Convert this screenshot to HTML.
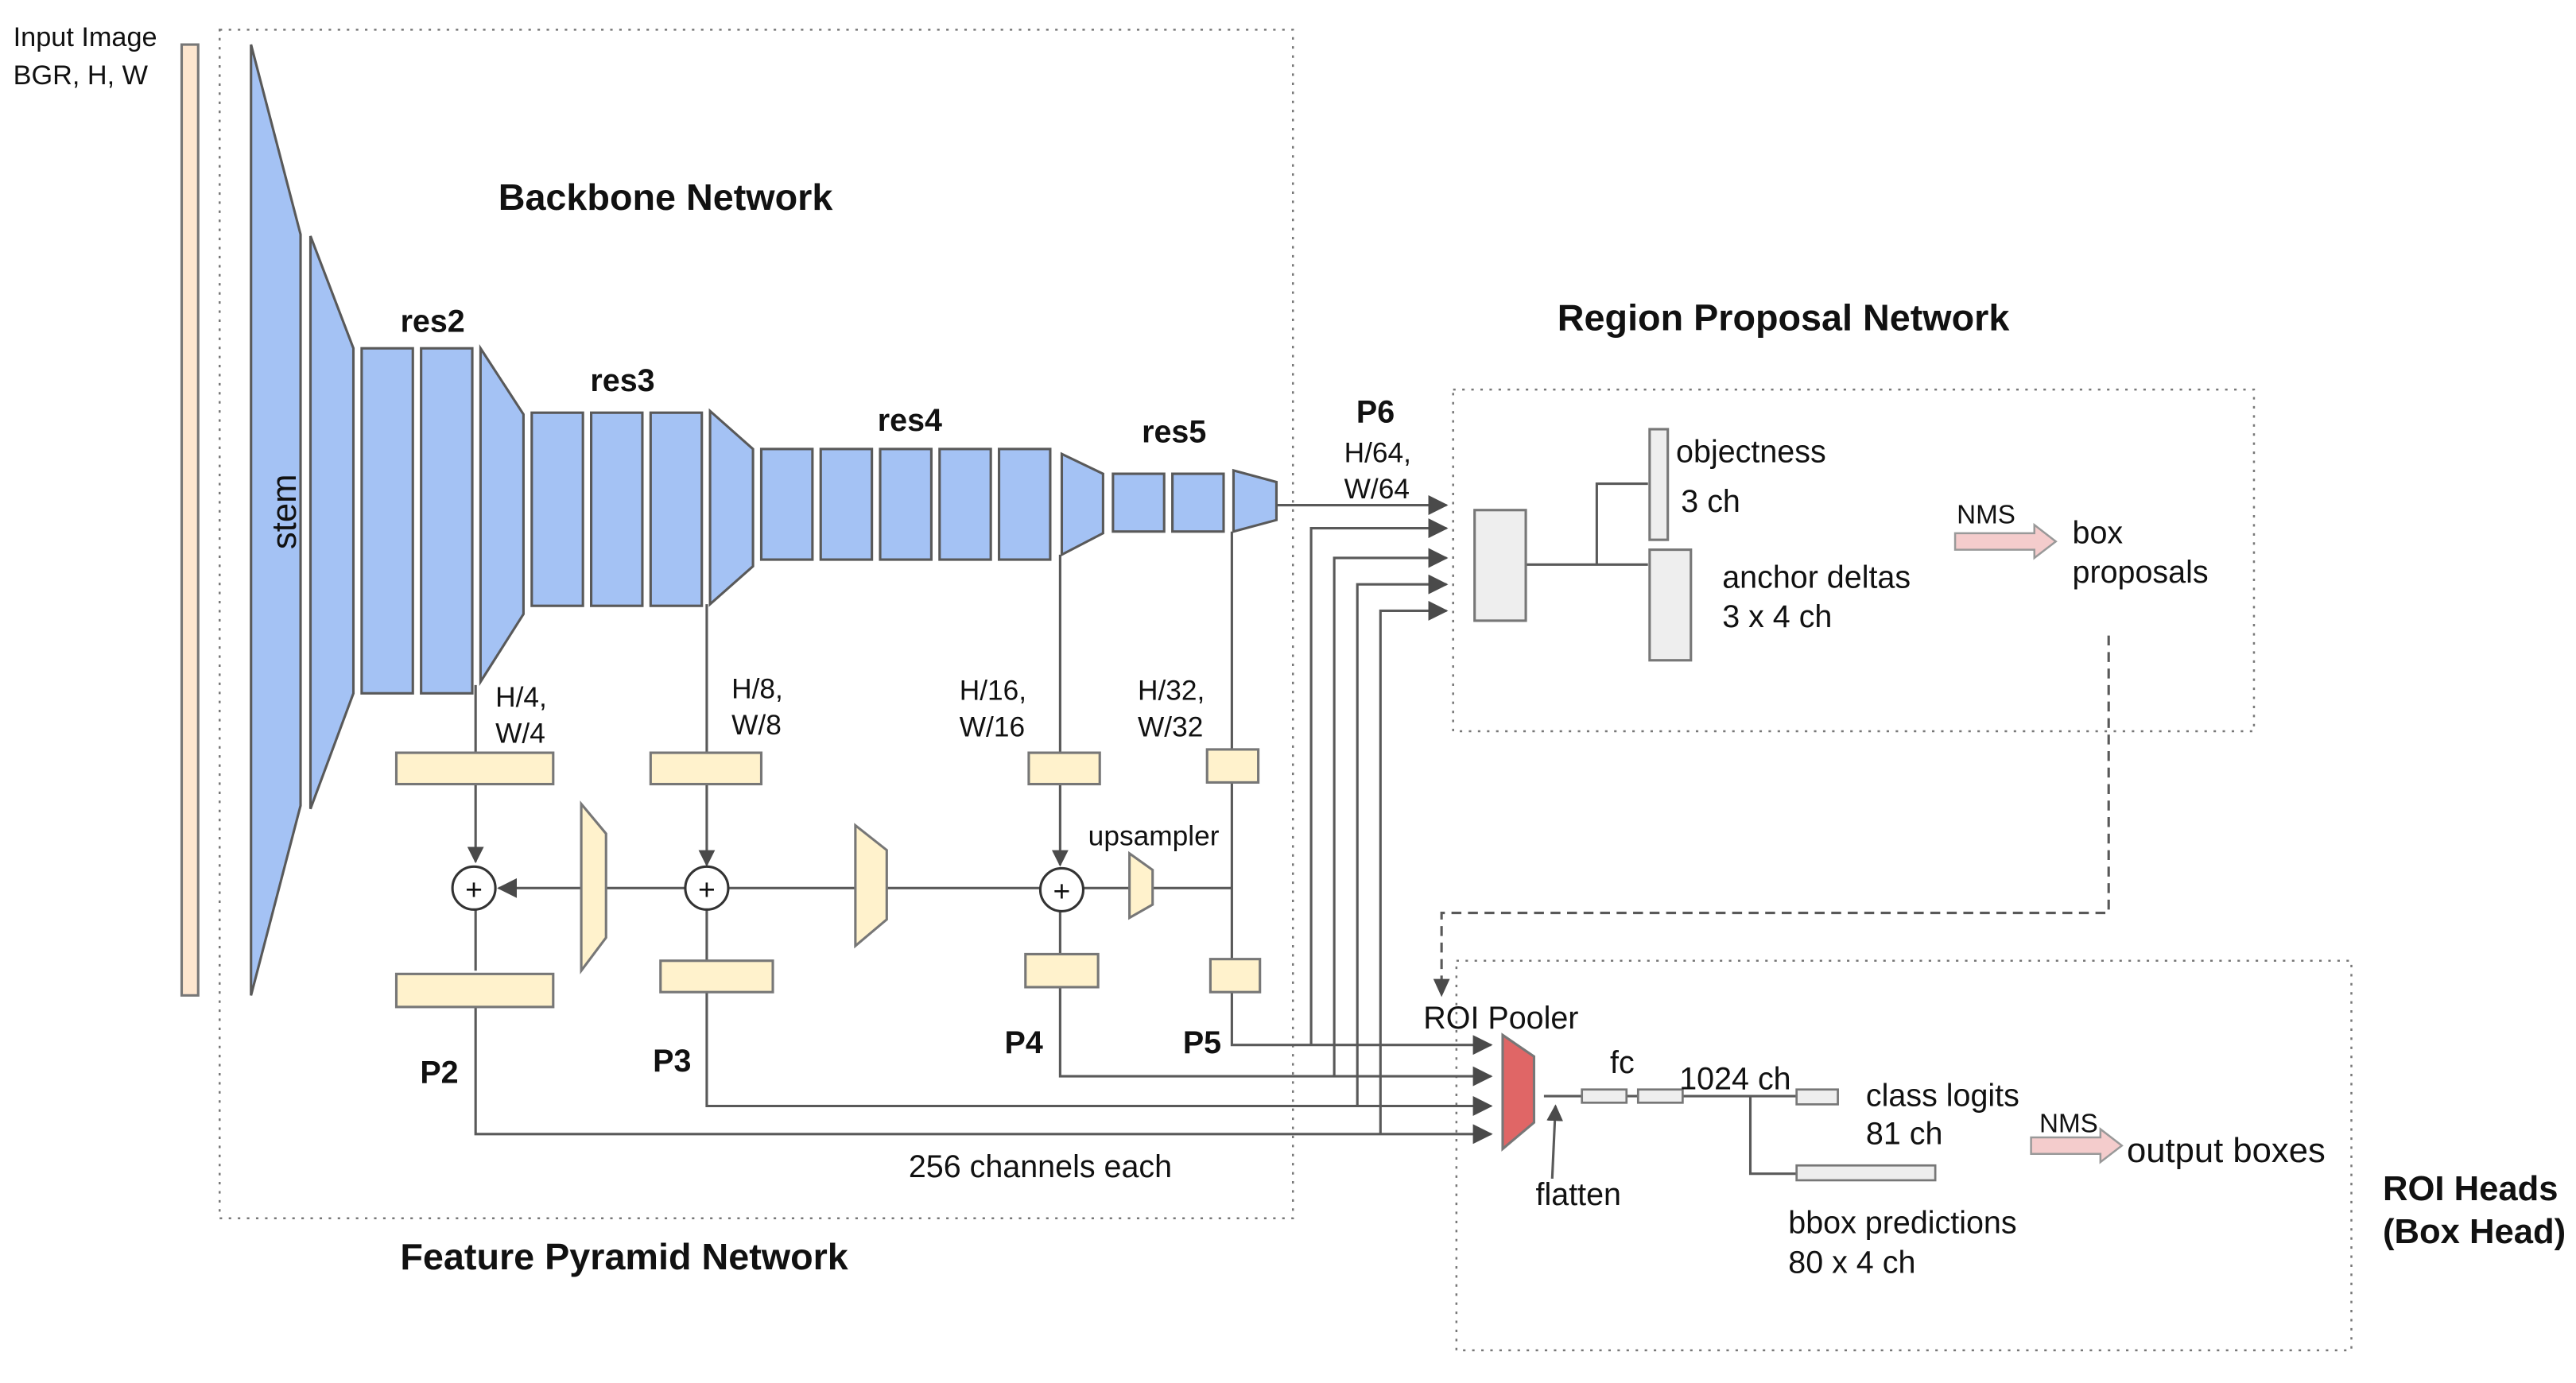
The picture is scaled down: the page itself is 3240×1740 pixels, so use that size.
<!DOCTYPE html>
<html><head><meta charset="utf-8"><style>
html,body{margin:0;padding:0;background:#fff;}
svg{display:block;}
text{font-family:"Liberation Sans",sans-serif;fill:#111;}
.b{font-weight:bold;}
</style></head><body>
<svg width="3240" height="1740" viewBox="0 0 1560 837.8" xmlns="http://www.w3.org/2000/svg">
<defs>
<marker id="ah" markerWidth="10" markerHeight="10" refX="9" refY="5" orient="auto" markerUnits="userSpaceOnUse">
<path d="M0,0 L10,5 L0,10 z" fill="#4a4a4a"/></marker>
<marker id="ah2" markerWidth="12" markerHeight="12" refX="11" refY="6" orient="auto" markerUnits="userSpaceOnUse">
<path d="M0,0 L12,6 L0,12 z" fill="#4a4a4a"/></marker>
</defs>
<g fill="none" stroke="#777" stroke-width="1.2" stroke-dasharray="1.5,4">
<rect x="133" y="18" width="650" height="720"/>
<rect x="880" y="236" width="485" height="207"/>
<rect x="882" y="582" width="542" height="236"/>
</g>
<rect x="110" y="27" width="10" height="576" fill="#fde6cf" stroke="#777" stroke-width="1.5"/>
<text x="8" y="28" font-size="16.5">Input Image</text>
<text x="8" y="51" font-size="16.5">BGR, H, W</text>
<g fill="#a4c2f4" stroke="#595959" stroke-width="1.5">
<polygon points="152,27 182,142 182,488 152,603"/>
<polygon points="188,143 214,211 214,420 188,490"/>
<rect x="219" y="211" width="31" height="209"/><rect x="255" y="211" width="31" height="209"/>
<polygon points="291,211 317,251 317,372 291,413"/>
<rect x="322" y="250" width="31" height="117"/><rect x="358" y="250" width="31" height="117"/><rect x="394" y="250" width="31" height="117"/>
<polygon points="430,249 456,272 456,343 430,366"/>
<rect x="461" y="272" width="31" height="67"/><rect x="497" y="272" width="31" height="67"/><rect x="533" y="272" width="31" height="67"/><rect x="569" y="272" width="31" height="67"/><rect x="605" y="272" width="31" height="67"/>
<polygon points="643,275 668,287 668,323 643,336"/>
<rect x="674" y="287" width="31" height="35"/><rect x="710" y="287" width="31" height="35"/>
<polygon points="747,285 773,292 773,315 747,322"/>
</g>
<text x="172" y="310" font-size="21" transform="rotate(-90 172 310)" text-anchor="middle" dy="7">stem</text>
<text x="403" y="127" font-size="22.5" class="b" text-anchor="middle">Backbone Network</text>
<text x="262" y="201" font-size="19" class="b" text-anchor="middle">res2</text>
<text x="377" y="237" font-size="19" class="b" text-anchor="middle">res3</text>
<text x="551" y="261" font-size="19" class="b" text-anchor="middle">res4</text>
<text x="711" y="268" font-size="19" class="b" text-anchor="middle">res5</text>
<g stroke="#595959" stroke-width="1.5" fill="none">
<line x1="288" y1="415" x2="288" y2="456"/>
<line x1="288" y1="475" x2="288" y2="522" marker-end="url(#ah)"/>
<line x1="428" y1="366" x2="428" y2="456"/>
<line x1="428" y1="475" x2="428" y2="524" marker-end="url(#ah)"/>
<line x1="642" y1="336" x2="642" y2="456"/>
<line x1="642" y1="475" x2="642" y2="524" marker-end="url(#ah)"/>
<line x1="746" y1="322" x2="746" y2="581"/>
<line x1="746" y1="538" x2="302" y2="538" marker-end="url(#ah2)"/>
<line x1="288" y1="551" x2="288" y2="588"/><line x1="428" y1="551" x2="428" y2="582"/><line x1="642" y1="551" x2="642" y2="578"/>
<polyline points="288,610 288,687 903,687" marker-end="url(#ah2)"/>
<polyline points="428,601 428,670 903,670" marker-end="url(#ah2)"/>
<polyline points="642,598 642,652 903,652" marker-end="url(#ah2)"/>
<polyline points="746,601 746,633 903,633" marker-end="url(#ah2)"/>
<polyline points="794,633 794,320 876,320" marker-end="url(#ah2)"/>
<polyline points="808,652 808,338 876,338" marker-end="url(#ah2)"/>
<polyline points="822,670 822,354 876,354" marker-end="url(#ah2)"/>
<polyline points="836,687 836,370 876,370" marker-end="url(#ah2)"/>
<line x1="773" y1="306" x2="876" y2="306" marker-end="url(#ah2)"/>
</g>
<g fill="#fff2cc" stroke="#777" stroke-width="1.5">
<rect x="240" y="456" width="95" height="19"/><rect x="394" y="456" width="67" height="19"/><rect x="623" y="456" width="43" height="19"/><rect x="731" y="454" width="31" height="20"/>
<rect x="240" y="590" width="95" height="20"/><rect x="400" y="582" width="68" height="19"/><rect x="621" y="578" width="44" height="20"/><rect x="733" y="581" width="30" height="20"/>
<polygon points="352,487 367,505 367,568 352,588"/>
<polygon points="518,500 537,515 537,557 518,573"/>
<polygon points="684,517 698,527 698,548 684,556"/>
</g>
<g fill="#fff" stroke="#333" stroke-width="1.5">
<circle cx="287" cy="538" r="13"/><circle cx="428" cy="538" r="13"/><circle cx="643" cy="539" r="13"/>
</g>
<g font-size="18" text-anchor="middle"><text x="287" y="545">+</text><text x="428" y="545">+</text><text x="643" y="546">+</text></g>
<g font-size="17">
<text x="300" y="428">H/4,</text><text x="300" y="450">W/4</text>
<text x="443" y="423">H/8,</text><text x="443" y="445">W/8</text>
<text x="581" y="424">H/16,</text><text x="581" y="446">W/16</text>
<text x="689" y="424">H/32,</text><text x="689" y="446">W/32</text>
<text x="659" y="512">upsampler</text>
<text x="814" y="280">H/64,</text><text x="814" y="302">W/64</text>
</g>
<g font-size="19" class="b" text-anchor="middle">
<text x="266" y="656">P2</text><text x="407" y="649">P3</text><text x="620" y="638">P4</text><text x="728" y="638">P5</text><text x="833" y="256">P6</text>
</g>
<text x="630" y="713" font-size="19" text-anchor="middle">256 channels each</text>
<text x="378" y="769" font-size="22.5" class="b" text-anchor="middle">Feature Pyramid Network</text>
<text x="1080" y="200" font-size="22.5" class="b" text-anchor="middle">Region Proposal Network</text>
<g stroke="#595959" stroke-width="1.5" fill="none">
<polyline points="924,342 998,342"/><polyline points="967,342 967,293 998,293"/>
</g>
<g fill="#eee" stroke="#777" stroke-width="1.5">
<rect x="893" y="309" width="31" height="67"/>
<rect x="999" y="260" width="11" height="67"/>
<rect x="999" y="333" width="25" height="67"/>
</g>
<g font-size="19">
<text x="1015" y="280">objectness</text><text x="1018" y="310">3 ch</text>
<text x="1043" y="356">anchor deltas</text><text x="1043" y="380">3 x 4 ch</text>
<text x="1255" y="329">box</text><text x="1255" y="353">proposals</text>
</g>
<polygon points="1184,323 1232,323 1232,318 1245,328 1232,338 1232,333 1184,333" fill="#f4cccc" stroke="#999" stroke-width="1.2"/>
<text x="1185" y="317" font-size="16">NMS</text>
<polyline points="1277,385 1277,553 873,553 873,600" fill="none" stroke="#595959" stroke-width="1.5" stroke-dasharray="6,4"/>
<path d="M868,593 L873,604 L878,593 z" fill="#4a4a4a"/>
<polygon points="910,627 929,640 929,680 910,696" fill="#e06666" stroke="#777" stroke-width="1.5"/>
<text x="862" y="623" font-size="19">ROI Pooler</text>
<g stroke="#595959" stroke-width="1.5" fill="none">
<line x1="935" y1="664" x2="958" y2="664"/><line x1="985" y1="664" x2="992" y2="664"/>
<line x1="1019" y1="664" x2="1088" y2="664"/>
<polyline points="1060,664 1060,711 1088,711"/>
<line x1="940" y1="714" x2="942" y2="670" marker-end="url(#ah)"/>
</g>
<g fill="#eee" stroke="#777" stroke-width="1.3">
<rect x="958" y="660" width="27" height="8"/><rect x="992" y="660" width="27" height="8"/>
<rect x="1088" y="660" width="25" height="9"/><rect x="1088" y="706" width="84" height="9"/>
</g>
<g font-size="19">
<text x="975" y="650">fc</text><text x="1017" y="660">1024 ch</text>
<text x="930" y="730">flatten</text>
<text x="1130" y="670">class logits</text><text x="1130" y="693">81 ch</text>
<text x="1083" y="747">bbox predictions</text><text x="1083" y="771">80 x 4 ch</text>
</g>
<polygon points="1230,689 1272,689 1272,684 1285,694 1272,704 1272,699 1230,699" fill="#f4cccc" stroke="#999" stroke-width="1.2"/>
<text x="1235" y="686" font-size="16">NMS</text>
<text x="1288" y="704" font-size="21">output boxes</text>
<text x="1443" y="727" font-size="21" class="b">ROI Heads</text>
<text x="1443" y="753" font-size="21" class="b">(Box Head)</text>
</svg>
</body></html>
